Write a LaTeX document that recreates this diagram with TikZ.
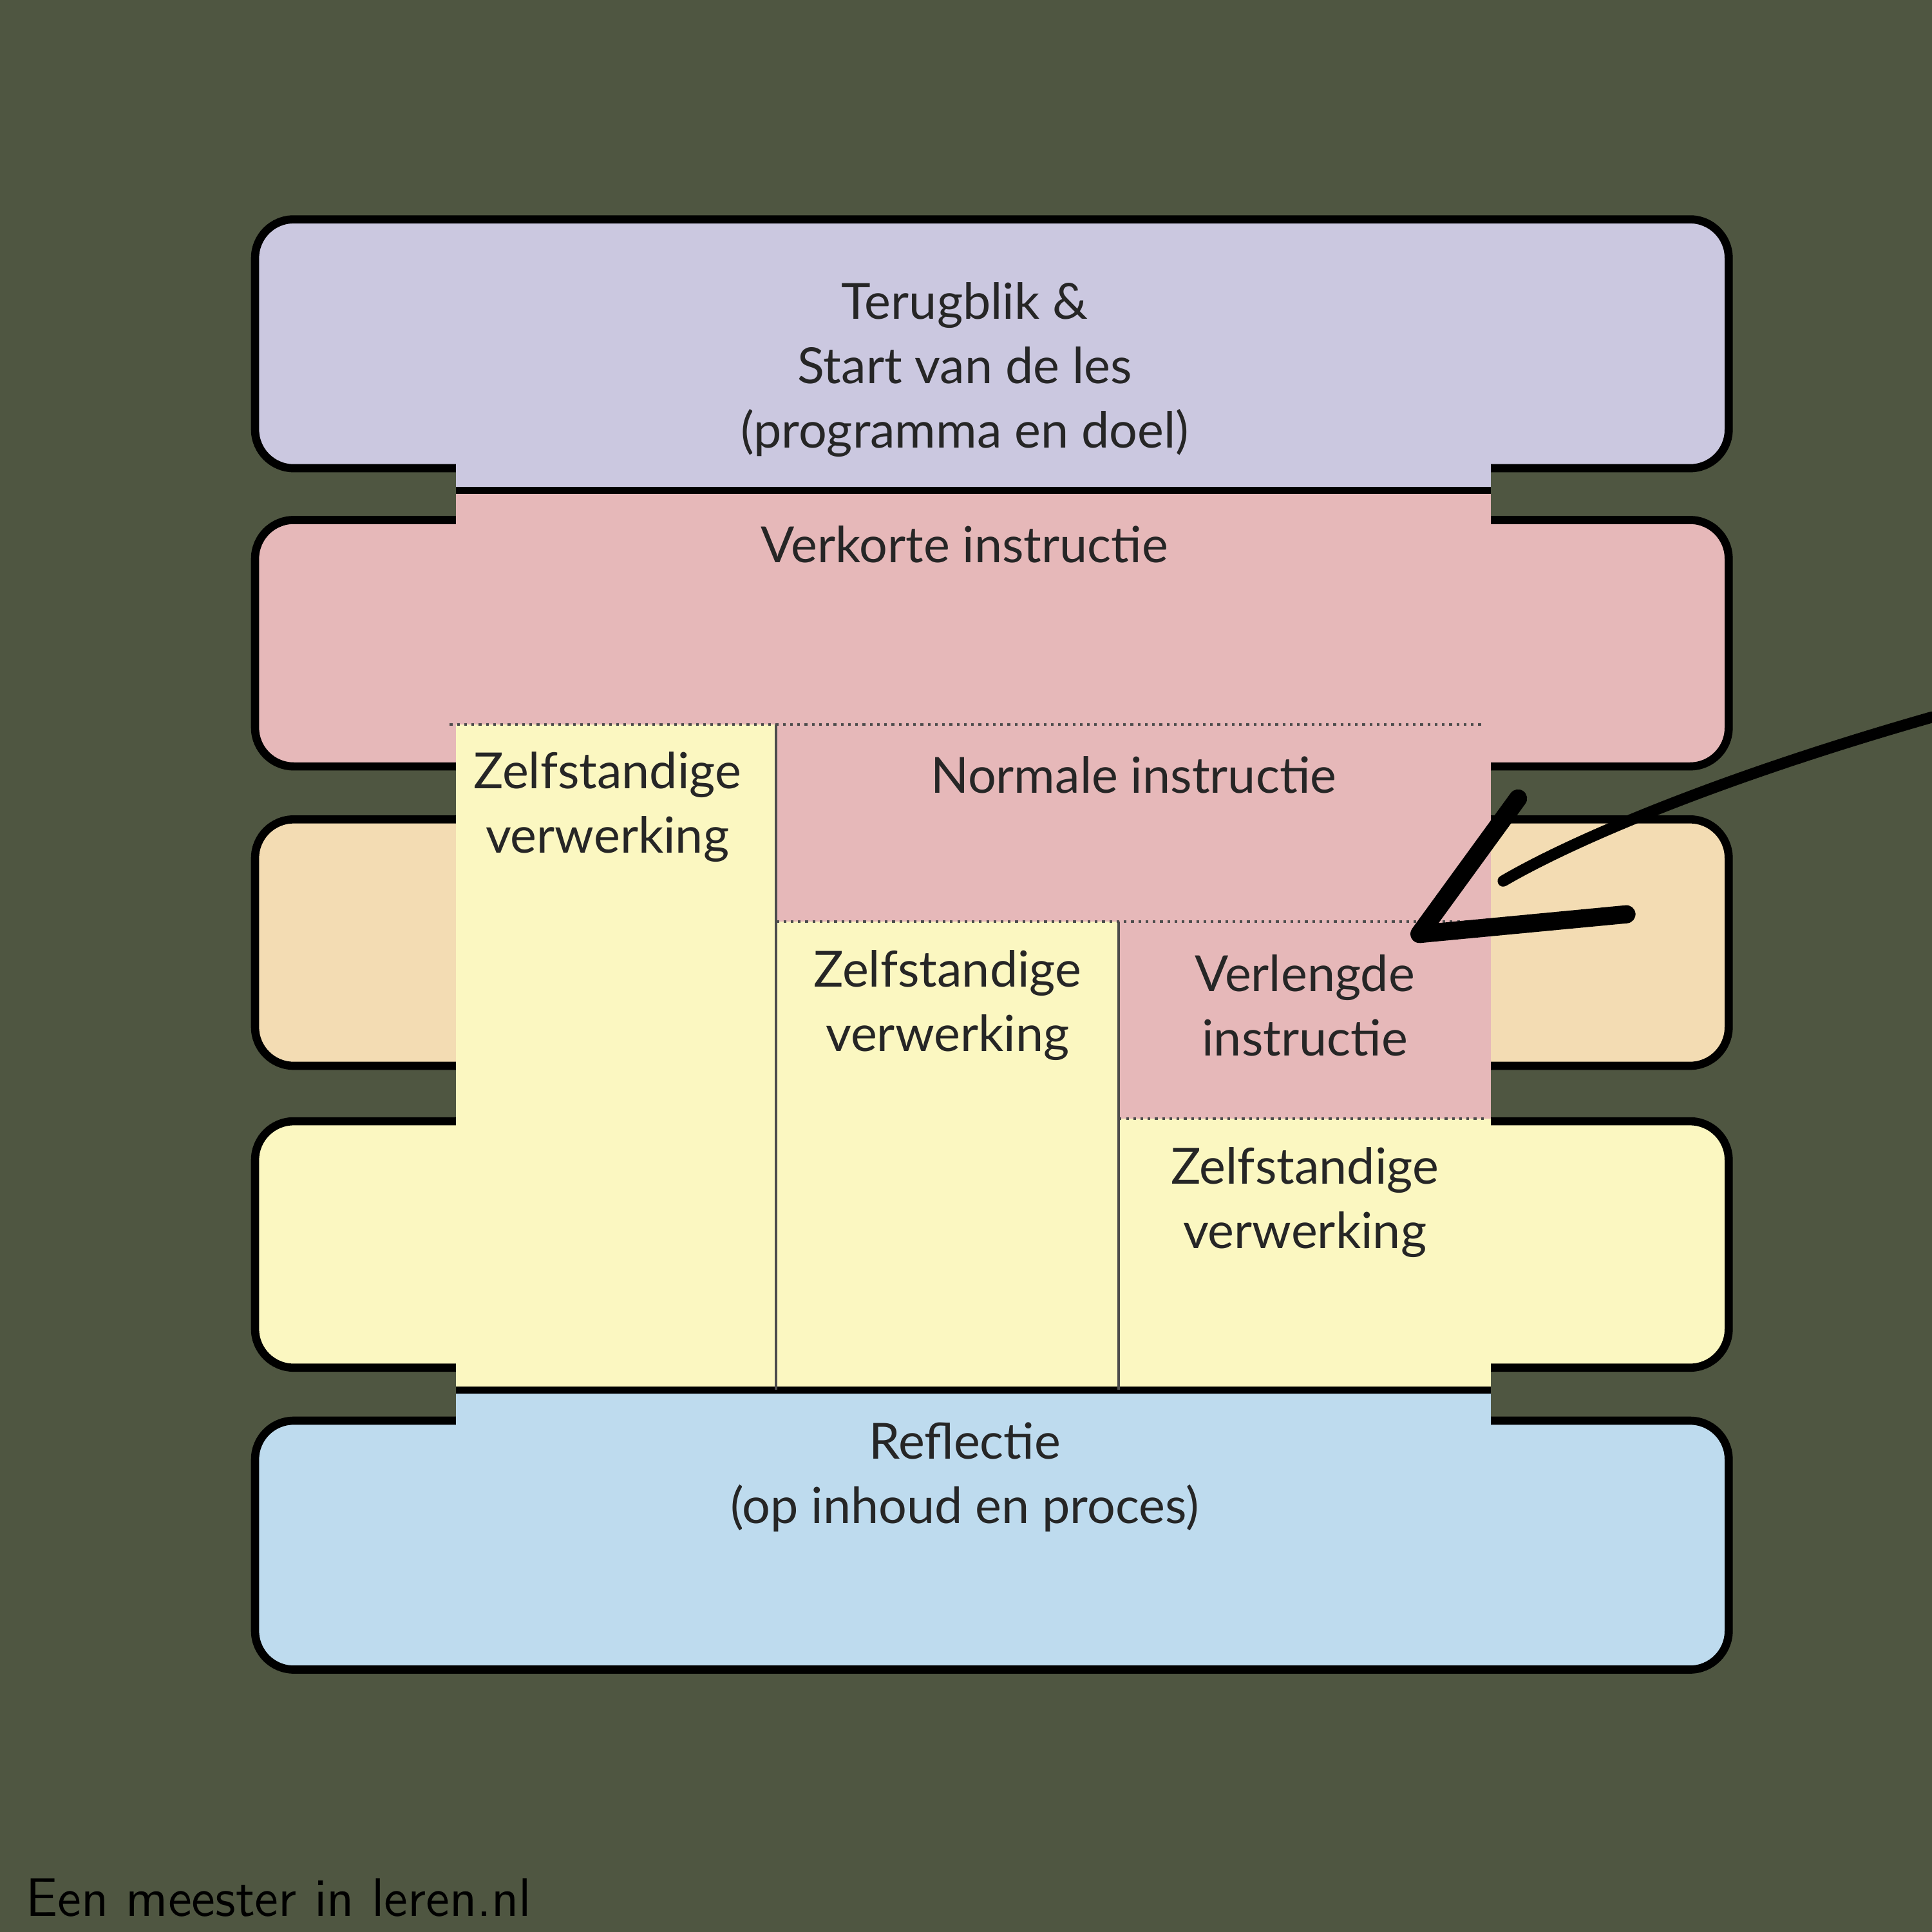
\documentclass[tikz,border=0pt]{standalone}
\usepackage{fontspec}
\setmainfont{Lato}
\usetikzlibrary{positioning}
\definecolor{board}{HTML}{4F5641}
\definecolor{lila}{HTML}{CBC8E0}
\definecolor{roze}{HTML}{E6B8B9}
\definecolor{perzik}{HTML}{F3DCB3}
\definecolor{geel}{HTML}{FBF7C1}
\definecolor{blauw}{HTML}{BEDBEE}
\begin{document}
\begin{tikzpicture}[
		x=0.0095663cm, y=-0.0095663cm,
		band/.style={draw=black, line width=1.8pt, rounded corners=0.3cm},
		label/.style={align=center, font=\fontsize{11}{14.2}\selectfont, text=black!85},
		stippel/.style={densely dotted, line width=0.6pt, black!70},
		pijl/.style={line width=4pt, line cap=round, line join=round}
	]
		\fill[board] (0,0) rectangle (1568,1568);
		\useasboundingbox (0,0) rectangle (1568,1568);

		% horizontale banden
		\draw[band, fill=lila] (207,178) rectangle (1403,380);
		\draw[band, fill=roze] (207,422) rectangle (1403,622);
		\draw[band, fill=perzik] (207,665) rectangle (1403,865);
		\draw[band, fill=geel] (207,910) rectangle (1403,1110);
		\draw[band, fill=blauw] (207,1153) rectangle (1403,1355);

		% middenstuk
		\fill[lila] (370,370) rectangle (1210,398);
		\fill[roze] (370,398) rectangle (1210,588);
		\fill[geel] (370,588) rectangle (630,1128);
		\fill[roze] (630,588) rectangle (1210,748);
		\fill[geel] (630,748) rectangle (908,1128);
		\fill[roze] (908,748) rectangle (1210,908);
		\fill[geel] (908,908) rectangle (1210,1128);
		\fill[blauw] (370,1128) rectangle (1210,1165);

		\draw[line width=1.6pt] (370,398) -- (1210,398);
		\draw[line width=1.6pt] (370,1128) -- (1210,1128);
		\draw[stippel] (365,588) -- (1205,588);
		\draw[stippel] (630,748) -- (1205,748);
		\draw[stippel] (908,908) -- (1205,908);
		\draw[line width=0.6pt, black!70] (630,588) -- (630,1128);
		\draw[line width=0.6pt, black!70] (908,748) -- (908,1128);

		\node[label] (start) at (783,300) {Terugblik \&\\Start van de les\\(programma en doel)};
		\node[label] (kort) at (783,442) {Verkorte instructie};
		\node[label] (zelf1) at (493,655) {Zelfstandige\\verwerking};
		\node[label] (normaal) at (920,629) {Normale instructie};
		\node[label] (zelf2) at (769,816) {Zelfstandige\\verwerking};
		\node[label] (lang) at (1059,816) {Verlengde\\instructie};
		\node[label] (zelf3) at (1059,976) {Zelfstandige\\verwerking};
		\node[label] (reflectie) at (783,1199) {Reflectie\\(op inhoud en proces)};

		% pijl
		\draw[pijl, line width=2.5pt] (1568,582) .. controls (1400,630) and (1280,680) .. (1220,715);
		\draw[pijl] (1232,648) -- (1152,758) -- (1320,742);

		\node[anchor=west, font=\sffamily\fontsize{12}{14}\selectfont, text=black] (bron) at (8,1540) {Een meester in leren.nl};
	\end{tikzpicture}
\end{document}
